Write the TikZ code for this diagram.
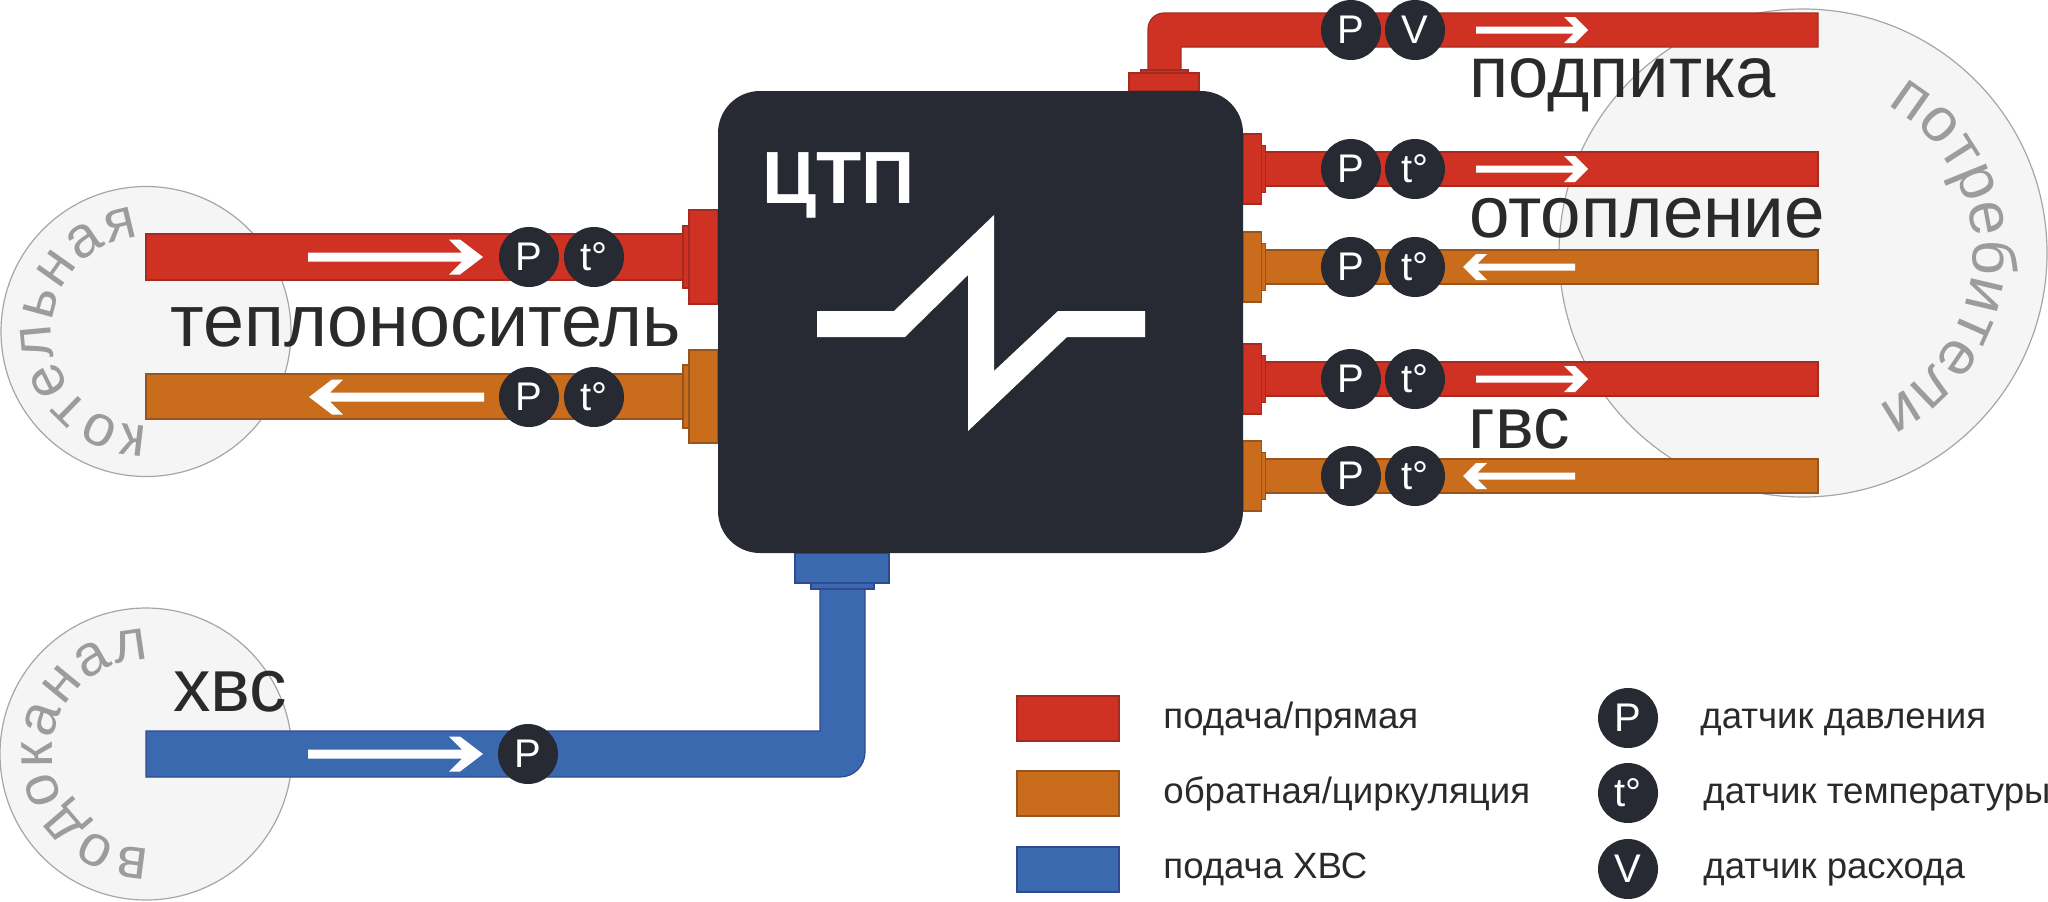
\documentclass[tikz,border=0pt]{standalone}
\usepackage{fontspec}
\setmainfont{Liberation Sans}
\usetikzlibrary{decorations.text}
\definecolor{cred}{HTML}{CF3222}
\definecolor{credd}{HTML}{A52B20}
\definecolor{corange}{HTML}{C96C1C}
\definecolor{corangd}{HTML}{98541F}
\definecolor{cblue}{HTML}{3A69B0}
\definecolor{cblued}{HTML}{2F4A90}
\definecolor{cdark}{HTML}{282A33}
\definecolor{ctext}{HTML}{2B2A29}
\definecolor{cround}{HTML}{F5F5F5}
\definecolor{croundd}{HTML}{A6A6A6}
\definecolor{ccurve}{HTML}{9C9C9C}
\newcommand{\bigfont}{\fontsize{37.5}{40}\selectfont}
\newcommand{\legfont}{\fontsize{18.3}{20}\selectfont}
\newcommand{\senfont}{\fontsize{20}{21}\selectfont}
\newcommand{\curvefont}{\fontsize{29}{30}\selectfont\color{ccurve}}
\newcommand{\curvefontb}{\fontsize{31}{32}\selectfont\color{ccurve}}
\tikzset{
  x=0.5pt,y=-0.5pt,
  redp/.style={fill=cred,draw=credd,line width=0.6pt},
  orap/.style={fill=corange,draw=corangd,line width=0.6pt},
  blup/.style={fill=cblue,draw=cblued,line width=0.6pt},
  sensor/.style={circle,fill=cdark,minimum size=30pt,inner sep=0pt,text=white,font=\senfont},
  station/.style={circle,fill=cround,draw=croundd,line width=0.6pt,inner sep=0pt},
  bigtext/.style={anchor=base west,inner sep=0pt,text=ctext,font=\bigfont},
  legtext/.style={anchor=base west,inner sep=0pt,text=ctext,font=\legfont},
  smallarrow/.pic={\fill[white] (-112,-3.5)--(-14.5,-3.5)--(-24,-13)--(-13,-13)--(0,0)--(-13,13)--(-24,13)--(-14.5,3.5)--(-112,3.5)--cycle;},
  largearrow/.pic={\fill[white] (-175,-4.5)--(-21,-4.5)--(-34,-17.5)--(-23,-17.5)--(0,0)--(-23,17.5)--(-34,17.5)--(-21,4.5)--(-175,4.5)--cycle;},
}
\begin{document}
\begin{tikzpicture}
\useasboundingbox (0,0) rectangle (2048,901);
% stations
\node[station,minimum size=145pt] (kot) at (146,331.5) {};
\node[station,minimum size=146pt] (vod) at (146,754) {};
\node[station,minimum size=244pt] (pot) at (1803,253) {};
\path[decorate,decoration={text along path,text align={fit to path},text={|\curvefont|котельная}}]
  (147.6,425.5) arc[start angle=271,end angle=94,radius=47pt];
\path[decorate,decoration={text along path,text align={fit to path},text={|\curvefont|водоканал}}]
  (149.3,848) arc[start angle=272,end angle=88,radius=47pt];
\path[decorate,decoration={text along path,text align={fit to path},text={|\curvefontb|потребители}}]
  (1887,105) arc[start angle=60.4,end angle=-59.4,radius=85pt];
% left pipes
\draw[redp] (146,234) rectangle (683,280);
\draw[redp] (683,226) rectangle (689,288);
\draw[redp] (689,210) rectangle (718,304);
\draw[orap] (146,374) rectangle (683,419);
\draw[orap] (683,365) rectangle (689,428);
\draw[orap] (689,350) rectangle (718,443);
% top pipe
\draw[redp] (1818,13) -- (1818,47) -- (1181,47) -- (1181,70) -- (1148,70) -- (1148,29) arc[start angle=180,end angle=90,radius=8pt] -- cycle;
\draw[redp] (1141,70) rectangle (1188,73);
\draw[redp] (1129,73) rectangle (1199,91);
% right pipes
\foreach \y/\st in {169/redp,267/orap,379/redp,476/orap}{
  \draw[\st] (1265.5,\y-17) rectangle (1818,\y+17);
  \draw[\st] (1261.5,\y-23.5) rectangle (1265.5,\y+23.5);
  \draw[\st] (1243,\y-35) rectangle (1261.5,\y+35);
}
% blue pipe
\draw[blup] (146,731) -- (820,731) -- (820,589) -- (865,589) -- (865,752) arc[start angle=0,end angle=-90,radius=12.5pt] -- (146,777) -- cycle;
\draw[blup] (811,583) rectangle (874,589);
\draw[blup] (795,553) rectangle (889,583);
% main box
\node[fill=cdark,rounded corners=21pt,minimum width=262.5pt,minimum height=231pt,inner sep=0pt,outer sep=0pt] (ctp) at (980.5,322) {};
\node[anchor=base west,inner sep=0pt,text=white,font=\fontsize{37}{40}\selectfont\bfseries] (ctpl) at (762,203) {ЦТП};
\fill[white] (817,311)--(894,311)--(994,215)--(994,371)--(1058,311)--(1145,311)--(1145,337)--(1067,337)--(968,431)--(968,275)--(905,337)--(817,337)--cycle;
% arrows
\pic at (483,257) {largearrow};
\pic[xscale=-1] at (309,397) {largearrow};
\pic at (483,754) {largearrow};
\pic at (1588,30) {smallarrow};
\pic at (1588,169) {smallarrow};
\pic at (1588,379) {smallarrow};
\pic[xscale=-1] at (1463,267) {smallarrow};
\pic[xscale=-1] at (1463,476) {smallarrow};
% sensors
\node[sensor] (s1) at (529,257) {P};
\node[sensor] (s2) at (594,257) {t°};
\node[sensor] (s3) at (529,397) {P};
\node[sensor] (s4) at (594,397) {t°};
\node[sensor] (s5) at (528,754) {P};
\node[sensor] (s6) at (1351,30) {P};
\node[sensor] (s7) at (1415,30) {V};
\node[sensor] (s8) at (1351,169) {P};
\node[sensor] (s9) at (1415,169) {t°};
\node[sensor] (s10) at (1351,267) {P};
\node[sensor] (s11) at (1415,267) {t°};
\node[sensor] (s12) at (1351,379) {P};
\node[sensor] (s13) at (1415,379) {t°};
\node[sensor] (s14) at (1351,476) {P};
\node[sensor] (s15) at (1415,476) {t°};
% pipe labels
\node[bigtext,font=\fontsize{36.8}{40}\selectfont] (t1) at (170,346) {теплоноситель};
\node[bigtext,font=\fontsize{36.2}{40}\selectfont] (t2) at (1469,97) {подпитка};
\node[bigtext,font=\fontsize{36.4}{40}\selectfont] (t3) at (1469,237) {отопление};
\node[bigtext,font=\fontsize{36.5}{40}\selectfont] (t4) at (1468,448) {гвс};
\node[bigtext] (t5) at (173,711) {хвс};
% legend
\draw[redp] (1017,696) rectangle (1119,741);
\draw[orap] (1017,771) rectangle (1119,816);
\draw[blup] (1017,847) rectangle (1119,892);
\node[legtext] (l1) at (1163,728) {подача/прямая};
\node[legtext] (l2) at (1163,803) {обратная/циркуляция};
\node[legtext] (l3) at (1163,878) {подача ХВС};
\node[sensor] (k1) at (1628,718) {P};
\node[sensor] (k2) at (1628,793) {t°};
\node[sensor] (k3) at (1628,869) {V};
\node[legtext] (l4) at (1700,728) {датчик давления};
\node[legtext] (l5) at (1703,803) {датчик температуры};
\node[legtext] (l6) at (1703,878) {датчик расхода};
\end{tikzpicture}
\end{document}
